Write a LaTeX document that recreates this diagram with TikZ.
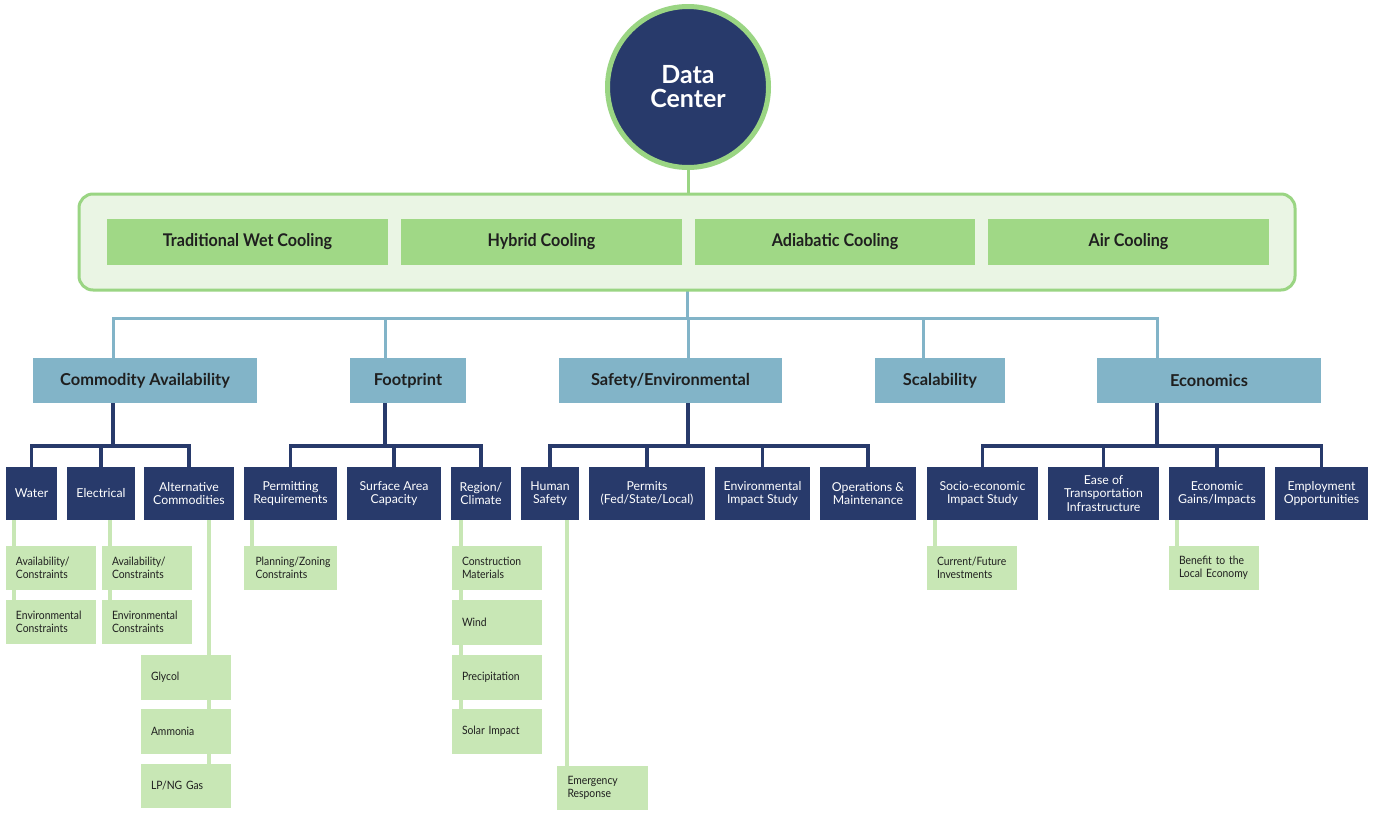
\documentclass[tikz,border=0pt]{standalone}
\usepackage{fontspec}
\setmainfont{Lato}
\newfontfamily\condfont[FakeStretch=0.92]{Lato}
\newfontfamily\leaffont[FakeStretch=0.9]{Lato}
\usetikzlibrary{backgrounds}
\definecolor{navy}{HTML}{283A6B}
\definecolor{ringgreen}{HTML}{9AD583}
\definecolor{coolbg}{HTML}{EAF5E4}
\definecolor{coolfill}{HTML}{A0D886}
\definecolor{lblue}{HTML}{82B4C8}
\definecolor{leaffill}{HTML}{C8E7B5}
\definecolor{txtdark}{HTML}{1F1F1F}
\begin{document}
\begin{tikzpicture}[x=1pt,y=-1pt,
  box/.style={anchor=north west, inner sep=0pt, outer sep=0pt, align=center},
  rootnode/.style={circle, fill=navy, draw=ringgreen, line width=5pt, minimum size=161pt, inner sep=0pt, text=white, font=\fontsize{25}{24}\selectfont\bfseries, align=center},
  container/.style={box, rounded corners=14pt, draw=ringgreen, line width=3pt, fill=coolbg, minimum width=1216pt, minimum height=96pt},
  coolbox/.style={box, fill=coolfill, minimum height=46pt, text=txtdark, font=\condfont\fontsize{17.5}{19}\selectfont\bfseries},
  ltwo/.style={box, fill=lblue, minimum height=45pt, text=txtdark, font=\fontsize{16.4}{18}\selectfont\bfseries},
  lthree/.style={box, fill=navy, minimum height=53pt, text=white, font=\fontsize{12.3}{13.3}\selectfont},
  leaf/.style={box, fill=leaffill, minimum height=44pt, text width=70pt, inner xsep=10pt, align=left, text=txtdark, font=\leaffont\fontsize{11.5}{13}\selectfont},
  gline/.style={draw=ringgreen, line width=3pt},
  bline/.style={draw=lblue, line width=3pt},
  nline/.style={draw=navy, line width=3.5pt},
  lline/.style={draw=leaffill, line width=3.5pt}
]
\useasboundingbox (0,0) rectangle (1373,817);

% root
\node[rootnode] (dc) at (688,87) {Data\\Center};

% cooling
\node[container] (cool) at (79,194) {};
\node[coolbox, minimum width=281pt] (twc) at (107,219) {Traditional Wet Cooling};
\node[coolbox, minimum width=281pt] (hyb) at (401,219) {Hybrid Cooling};
\node[coolbox, minimum width=280pt] (adi) at (695,219) {Adiabatic Cooling};
\node[coolbox, minimum width=281pt] (air) at (988,219) {Air Cooling};

% level 2
\node[ltwo, minimum width=224pt] (ca) at (33,358) {Commodity Availability};
\node[ltwo, minimum width=116pt] (fp) at (350,358) {Footprint};
\node[ltwo, minimum width=223pt] (se) at (559,358) {Safety/Environmental};
\node[ltwo, minimum width=130pt] (sc) at (875,358) {Scalability};
\node[ltwo, minimum width=224pt] (ec) at (1097,358) {Economics};

% level 3
\node[lthree, minimum width=51pt] (water) at (6,467) {Water};
\node[lthree, minimum width=68pt] (elec) at (67,467) {Electrical};
\node[lthree, minimum width=90pt] (alt) at (144,467) {Alternative\\Commodities};
\node[lthree, minimum width=93pt] (perm) at (244,467) {Permitting\\Requirements};
\node[lthree, minimum width=94pt] (surf) at (347,467) {Surface Area\\Capacity};
\node[lthree, minimum width=60pt] (reg) at (451,467) {Region/\\Climate};
\node[lthree, minimum width=58pt] (human) at (521,467) {Human\\Safety};
\node[lthree, minimum width=116pt] (permits) at (589,467) {Permits\\(Fed/State/Local)};
\node[lthree, minimum width=95pt] (env) at (715,467) {Environmental\\Impact Study};
\node[lthree, minimum width=96pt] (ops) at (820,467) {Operations \&\\Maintenance};
\node[lthree, minimum width=111pt] (socio) at (927,467) {Socio-economic\\Impact Study};
\node[lthree, minimum width=111pt] (ease) at (1048,467) {Ease of\\Transportation\\Infrastructure};
\node[lthree, minimum width=96pt] (gains) at (1169,467) {Economic\\Gains/Impacts};
\node[lthree, minimum width=93pt] (emp) at (1275,467) {Employment\\Opportunities};

% leaves
\node[leaf, minimum width=89pt] (wav) at (6,546) {Availability/\\Constraints};
\node[leaf, minimum width=89pt] (wenv) at (6,600) {Environmental\\Constraints};
\node[leaf, minimum width=90pt] (eav) at (102,546) {Availability/\\Constraints};
\node[leaf, minimum width=90pt] (eenv) at (102,600) {Environmental\\Constraints};
\node[leaf, minimum width=89pt, minimum height=45pt] (gly) at (141,655) {Glycol};
\node[leaf, minimum width=89pt, minimum height=45pt] (amm) at (141,709) {Ammonia};
\node[leaf, minimum width=89pt, minimum height=44pt] (lpg) at (141,764) {LP/NG Gas};
\node[leaf, minimum width=93pt] (plan) at (244,546) {Planning/Zoning\\Constraints};
\node[leaf, minimum width=89pt] (cons) at (452,546) {Construction\\Materials};
\node[leaf, minimum width=89pt, minimum height=45pt] (wind) at (452,600) {Wind};
\node[leaf, minimum width=89pt, minimum height=45pt] (prec) at (452,655) {Precipitation};
\node[leaf, minimum width=89pt, minimum height=45pt] (solar) at (452,709) {Solar Impact};
\node[leaf, minimum width=91pt] (emer) at (557,766) {Emergency\\Response};
\node[leaf, minimum width=89pt] (curr) at (927,546) {Current/Future\\Investments};
\node[leaf, minimum width=89pt] (bene) at (1169,546) {Benefit to the\\Local Economy};

\begin{scope}[on background layer]
\fill[white] (0,0) rectangle (1373,817);
% root to cooling
\draw[gline] (dc.south) -- (dc.south |- cool.north);
% cooling to level 2
\coordinate (bus) at (688,318);
\draw[bline] (cool.south) -- (cool.south |- bus);
\draw[bline] (ca.north west) ++(80,0) |- (bus);
\draw[bline] (ec.north west) ++(60,0) |- (bus);
\draw[bline] (fp.north west) ++(35,0) -- ++(0,-40);
\draw[bline] (se.north west) ++(129,0) -- ++(0,-40);
\draw[bline] (sc.north west) ++(48,0) -- ++(0,-40);
% level 2 to level 3
\draw[nline] (ca.south west) ++(80,0) -- ++(0,43);
\draw[nline] (water.north) -- ++(0,-21) -| (alt.north);
\draw[nline] (elec.north) -- ++(0,-21);
\draw[nline] (fp.south west) ++(35,0) -- ++(0,43);
\draw[nline] (perm.north) -- ++(0,-21) -| (reg.north);
\draw[nline] (surf.north) -- ++(0,-21);
\draw[nline] (se.south west) ++(129,0) -- ++(0,43);
\draw[nline] (human.north) -- ++(0,-21) -| (ops.north);
\draw[nline] (permits.north) -- ++(0,-21);
\draw[nline] (env.north) -- ++(0,-21);
\draw[nline] (ec.south west) ++(60,0) -- ++(0,43);
\draw[nline] (socio.north) -- ++(0,-21) -| (emp.north);
\draw[nline] (ease.north) -- ++(0,-21);
\draw[nline] (gains.north) -- ++(0,-21);
% level 3 to leaves
\draw[lline] ([xshift=8pt]wenv.north west) -- ([xshift=8pt]wenv.north west |- water.south);
\draw[lline] ([xshift=8pt]eenv.north west) -- ([xshift=8pt]eenv.north west |- elec.south);
\draw[lline] ([xshift=-22pt]lpg.north east) -- ([xshift=-22pt]lpg.north east |- alt.south);
\draw[lline] ([xshift=8pt]plan.north west) -- ([xshift=8pt]plan.north west |- perm.south);
\draw[lline] ([xshift=9pt]solar.north west) -- ([xshift=9pt]solar.north west |- reg.south);
\draw[lline] ([xshift=10pt]emer.north west) -- ([xshift=10pt]emer.north west |- human.south);
\draw[lline] ([xshift=8pt]curr.north west) -- ([xshift=8pt]curr.north west |- socio.south);
\draw[lline] ([xshift=8pt]bene.north west) -- ([xshift=8pt]bene.north west |- gains.south);
\end{scope}
\end{tikzpicture}
\end{document}
